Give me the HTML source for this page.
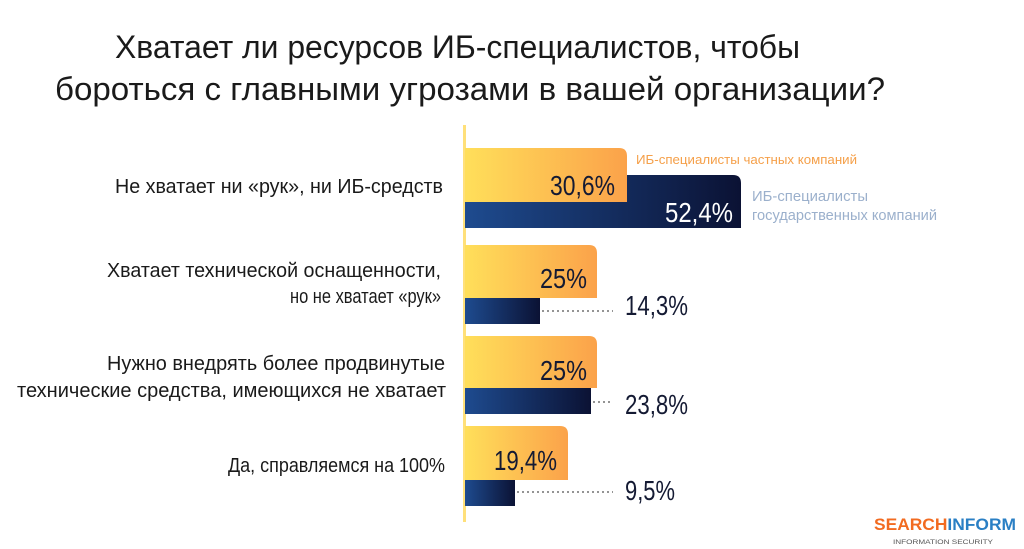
<!DOCTYPE html>
<html><head><meta charset="utf-8"><style>html,body{margin:0;padding:0;background:#fff;}svg{display:block}</style></head>
<body>
<svg width="1024" height="549" viewBox="0 0 1024 549" xmlns="http://www.w3.org/2000/svg" font-family="'Liberation Sans', 'Noto Sans CJK SC', sans-serif">
<defs>
<linearGradient id="y" x1="0" x2="1"><stop offset="0" stop-color="#ffdf5a"/><stop offset="1" stop-color="#fba24a"/></linearGradient>
<linearGradient id="b" x1="0" x2="1"><stop offset="0" stop-color="#1e4b8f"/><stop offset="1" stop-color="#0b1234"/></linearGradient>
</defs>
<g fill="#1a1a1a" font-size="32">
<text x="115" y="58" textLength="685" lengthAdjust="spacingAndGlyphs">Хватает ли ресурсов ИБ-специалистов, чтобы</text>
<text x="55" y="100" textLength="830" lengthAdjust="spacingAndGlyphs">бороться с главными угрозами в вашей организации?</text>
</g>
<rect x="463" y="125" width="3" height="397" fill="#ffe07a"/>
<!-- bars -->
<path d="M465 175 H733 q8 0 8 8 V228 H465Z" fill="url(#b)"/>
<path d="M465 148 H619 q8 0 8 8 V202 H465Z" fill="url(#y)"/>
<path d="M465 245 H589 q8 0 8 8 V298 H465Z" fill="url(#y)"/>
<rect x="465" y="298" width="75" height="26" fill="url(#b)"/>
<path d="M465 336 H589 q8 0 8 8 V388 H465Z" fill="url(#y)"/>
<rect x="465" y="388" width="126" height="26" fill="url(#b)"/>
<path d="M465 426 H560 q8 0 8 8 V480 H465Z" fill="url(#y)"/>
<rect x="465" y="480" width="50" height="26" fill="url(#b)"/>
<g stroke="#555" stroke-width="1.2" stroke-dasharray="2 3">
<line x1="542" y1="311" x2="613" y2="311"/><line x1="593" y1="402" x2="613" y2="402"/><line x1="517" y1="492" x2="613" y2="492"/>
</g>
<g fill="#1a1a1a" font-size="20">
<text x="443" y="193" text-anchor="end" textLength="328" lengthAdjust="spacingAndGlyphs">Не хватает ни «рук», ни ИБ-средств</text>
<text x="441" y="277" text-anchor="end" textLength="334" lengthAdjust="spacingAndGlyphs">Хватает технической оснащенности,</text>
<text x="441" y="303" text-anchor="end" textLength="151" lengthAdjust="spacingAndGlyphs">но не хватает «рук»</text>
<text x="445" y="370" text-anchor="end" textLength="338" lengthAdjust="spacingAndGlyphs">Нужно внедрять более продвинутые</text>
<text x="446" y="397" text-anchor="end" textLength="429" lengthAdjust="spacingAndGlyphs">технические средства, имеющихся не хватает</text>
<text x="445" y="472" text-anchor="end" textLength="217" lengthAdjust="spacingAndGlyphs">Да, справляемся на 100%</text>
</g>
<g fill="#141a33" font-size="28">
<text x="550" y="195" textLength="65" lengthAdjust="spacingAndGlyphs">30,6%</text>
<text x="665" y="222" fill="#fff" textLength="68" lengthAdjust="spacingAndGlyphs">52,4%</text>
<text x="540" y="288" textLength="47" lengthAdjust="spacingAndGlyphs">25%</text>
<text x="625" y="315" textLength="63" lengthAdjust="spacingAndGlyphs">14,3%</text>
<text x="540" y="380" textLength="47" lengthAdjust="spacingAndGlyphs">25%</text>
<text x="625" y="414" textLength="63" lengthAdjust="spacingAndGlyphs">23,8%</text>
<text x="494" y="470" textLength="63" lengthAdjust="spacingAndGlyphs">19,4%</text>
<text x="625" y="500" textLength="50" lengthAdjust="spacingAndGlyphs">9,5%</text>
</g>
<text x="636" y="164" fill="#f5a04a" font-size="13" textLength="221" lengthAdjust="spacingAndGlyphs">ИБ-специалисты частных компаний</text>
<g fill="#9bb0cc" font-size="15">
<text x="752" y="201" textLength="116" lengthAdjust="spacingAndGlyphs">ИБ-специалисты</text>
<text x="752" y="220" textLength="185" lengthAdjust="spacingAndGlyphs">государственных компаний</text>
</g>
<text x="874" y="530" font-size="17" font-weight="bold" textLength="142" lengthAdjust="spacingAndGlyphs"><tspan fill="#f26b21">SEARCH</tspan><tspan fill="#2a7fc4">INFORM</tspan></text>
<text x="893" y="544" font-size="6" fill="#555" textLength="100" lengthAdjust="spacingAndGlyphs">INFORMATION SECURITY</text>
</svg>
</body></html>
